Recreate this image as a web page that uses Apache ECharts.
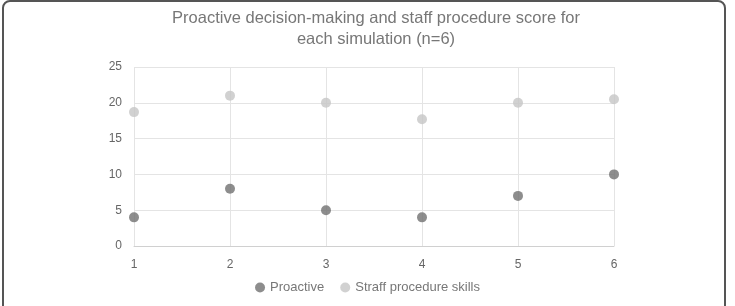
<!DOCTYPE html>
<html>
<head>
<meta charset="utf-8">
<script src="https://cdn.jsdelivr.net/npm/echarts@6/dist/echarts.min.js"></script>
<style>
  html, body { margin: 0; padding: 0; background: #fff; }
  #frame {
    position: absolute; left: 2px; top: 0; width: 724px; height: 320px;
    border: 2px solid #555; border-radius: 8px; box-sizing: border-box;
  }
  #chart { position: absolute; left: 0; top: 0; width: 735px; height: 306px; }
</style>
</head>
<body>
<div id="frame"></div>
<div id="chart"></div>
<script>
// simulation number on x
const simulations = [1, 2, 3, 4, 5, 6];
const proactive = [4, 8, 5, 4, 7, 10];
const staffProcedure = [18.7, 21, 20, 17.7, 20, 20.5];

const chart = echarts.init(document.getElementById("chart"));

const option = {
  backgroundColor: "transparent",
  title: {
    text: "Proactive decision-making and staff procedure score for\neach simulation (n=6)",
    left: 371,
    top: 3,
    textAlign: "center",
    textStyle: {
      fontFamily: "Liberation Sans",
      fontSize: 16.5,
      fontWeight: "normal",
      color: "#777",
      lineHeight: 21,
    },
  },
  legend: {
    bottom: 7,
    left: "center",
    itemWidth: 10,
    itemHeight: 10,
    itemGap: 16,
    textStyle: { fontFamily: "Liberation Sans", fontSize: 13, color: "#777" },
    data: [
      { name: "Proactive", icon: "circle" },
      { name: "Straff procedure skills", icon: "circle" },
    ],
  },
  grid: { left: 134, right: 121, top: 67, bottom: 60 },
  xAxis: {
    type: "value",
    min: 1,
    max: 6,
    interval: 1,
    axisLine: { show: true, lineStyle: { color: "#d0d0d0" } },
    axisTick: { show: false },
    axisLabel: { color: "#666", fontFamily: "Liberation Sans", fontSize: 12, margin: 13 },
    splitLine: { show: true, lineStyle: { color: "#e4e4e4" } },
  },
  yAxis: {
    type: "value",
    min: 0,
    max: 25,
    interval: 5,
    axisLine: { show: false },
    axisTick: { show: false },
    axisLabel: { color: "#666", fontFamily: "Liberation Sans", fontSize: 12, margin: 12 },
    splitLine: { show: true, lineStyle: { color: "#e4e4e4" } },
  },
  series: [
    {
      name: "Proactive",
      type: "scatter",
      symbolSize: 10,
      itemStyle: { color: "#707070" },
      data: simulations.map((s, i) => [s, proactive[i]]),
    },
    {
      name: "Straff procedure skills",
      type: "scatter",
      symbolSize: 10,
      itemStyle: { color: "#c6c6c6" },
      data: simulations.map((s, i) => [s, staffProcedure[i]]),
    },
  ],
};

chart.setOption(option);
</script>
</body>
</html>
